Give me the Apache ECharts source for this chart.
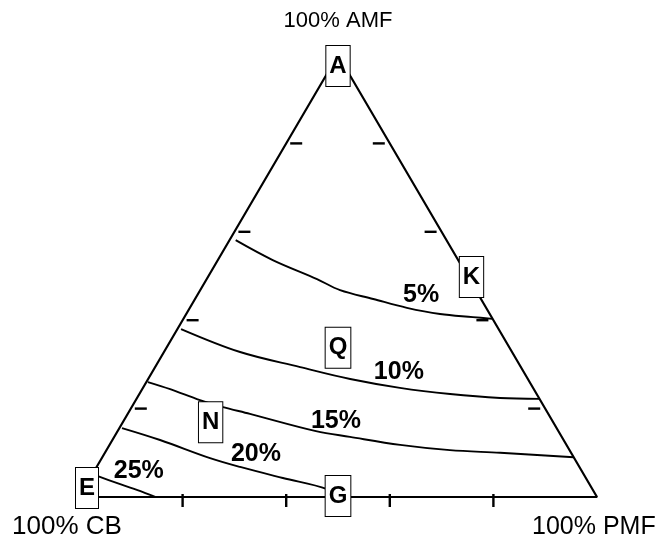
<!DOCTYPE html>
<html>
<head>
<meta charset="utf-8">
<script src="https://cdn.jsdelivr.net/npm/echarts@6/dist/echarts.min.js"></script>
<style>
  html, body { margin: 0; padding: 0; background: #fff; }
  #chart { width: 661px; height: 537px; }
</style>
</head>
<body>
<div id="chart"></div>
<script>
// Ternary composition diagram: AMF / CB / PMF (percent), iso-lines of a response.
// Every composition is [AMF, CB, PMF].

const vertexNames = ['100% AMF', '100% CB', '100% PMF'];
const vertices = [[100, 0, 0], [0, 100, 0], [0, 0, 100]];

const contourLabels = ['5%', '10%', '15%', '20%', '25%'];

const curve5 = [
  [58.1, 40.7, 1.2], [53.6, 35.8, 10.6], [49.3, 29.4, 21.3], [46.8, 26.2, 27.0],
  [44.8, 20.8, 34.4], [42.8, 15.3, 41.9], [41.4, 9.6, 49.0], [40.7, 3.6, 55.7],
  [40.3, 0.0, 59.7]
];
const curve10 = [
  [38.0, 61.3, 0.7], [32.8, 52.5, 14.7], [29.4, 42.6, 28.0], [26.7, 34.3, 39.0],
  [24.7, 25.7, 49.6], [23.3, 16.7, 60.0], [22.4, 7.5, 70.1], [22.2, 0.0, 77.8]
];
const curve15 = [
  [26.0, 73.7, 0.3], [24.4, 70.2, 5.4], [21.9, 65.7, 12.4], [20.4, 62.2, 17.4],
  [18.8, 57.6, 23.6], [14.9, 46.8, 38.3], [13.6, 40.9, 45.5], [11.8, 32.1, 56.1],
  [10.6, 23.1, 66.3], [10.0, 13.7, 76.3], [9.0, 0.0, 91.0]
];
const curve20 = [
  [15.6, 83.9, 0.5], [12.9, 77.9, 9.2], [8.8, 70.3, 20.9], [6.8, 65.5, 27.7],
  [4.3, 58.5, 37.2], [1.8, 51.2, 47.0], [0.0, 50.0, 50.0]
];
const curve25 = [
  [5.2, 94.7, 0.1], [4.8, 94.1, 1.1], [2.9, 90.6, 6.5], [1.1, 87.1, 11.8],
  [0.0, 85.3, 14.7]
];
const curves = [curve5, curve10, curve15, curve20, curve25];

// Where each iso-line is labelled
const contourLabelAt = [
  [45.7, 11.1, 43.2], [28.3, 24.1, 47.6], [17.2, 41.8, 41.0],
  [9.7, 61.0, 29.3], [5.9, 85.5, 8.6]
];

// Design points
const pointNames = ['A', 'E', 'G', 'K', 'Q', 'N'];
const pointAMF = [100, 0, 0, 50, 33.3, 16.7];
const pointCB  = [0, 100, 50, 0, 33.3, 66.7];
const pointPMF = [0, 0, 50, 50, 33.3, 16.7];

// Tick marks along each edge (percent)
const tickLevels = [20, 40, 60, 80];

// ---- layout / style ----
const FONT = '"Liberation Sans", Arial, Helvetica, sans-serif';
const INK = '#000';
const pointLabelOffsets = { A: [0, 11], E: [8, -9], G: [0, -1], K: [4, 1], Q: [0, -2], N: [2, -1] };

// ternary [AMF, CB, PMF] -> cartesian (x across the base, y up to the AMF apex)
function toXY(c) {
  const s = c[0] + c[1] + c[2];
  const amf = c[0] / s, pmf = c[2] / s;
  return [pmf + amf / 2, amf];
}

const chart = echarts.init(document.getElementById('chart'), null, { renderer: 'canvas' });

const edgeData = [vertices[0], vertices[1], vertices[2], vertices[0]].map(toXY);

// tick data: [x, y, side] where side 0 = left edge, 1 = right edge, 2 = base
const tickData = [];
tickLevels.forEach(function (t) {
  tickData.push(toXY([t, 100 - t, 0]).concat([0]));
  tickData.push(toXY([t, 0, 100 - t]).concat([1]));
  tickData.push(toXY([0, 100 - t, t]).concat([2]));
});

const series = [];

series.push({
  type: 'line',
  data: edgeData,
  symbol: 'none',
  lineStyle: { color: INK, width: 2.2 },
  z: 2,
  silent: true
});

curves.forEach(function (cv) {
  series.push({
    type: 'line',
    data: cv.map(toXY),
    symbol: 'none',
    smooth: 0.35,
    lineStyle: { color: INK, width: 1.9 },
    z: 3,
    silent: true
  });
});

series.push({
  type: 'custom',
  data: tickData,
  z: 4,
  silent: true,
  renderItem: function (params, api) {
    const p = api.coord([api.value(0), api.value(1)]);
    const side = api.value(2);
    let shape;
    if (side === 0) shape = { x1: p[0] + 4, y1: p[1], x2: p[0] + 16, y2: p[1] };
    else if (side === 1) shape = { x1: p[0] - 17, y1: p[1], x2: p[0] - 5, y2: p[1] };
    else shape = { x1: p[0], y1: p[1] - 3, x2: p[0], y2: p[1] + 10 };
    return { type: 'line', shape: shape, style: { stroke: INK, lineWidth: 2.4 } };
  }
});

series.push({
  type: 'scatter',
  data: contourLabelAt.map(function (c, i) {
    return { value: toXY(c), name: contourLabels[i] };
  }),
  symbolSize: 1,
  itemStyle: { color: 'rgba(0,0,0,0)', opacity: 1 },
  z: 5,
  silent: true,
  label: {
    show: true,
    position: 'inside',
    formatter: '{b}',
    color: INK,
    fontFamily: FONT,
    fontWeight: 'bold',
    fontSize: 25
  }
});

series.push({
  type: 'scatter',
  data: pointNames.map(function (n, i) {
    return {
      value: toXY([pointAMF[i], pointCB[i], pointPMF[i]]),
      name: n,
      label: { offset: pointLabelOffsets[n] }
    };
  }),
  symbolSize: 1,
  itemStyle: { color: 'rgba(0,0,0,0)', opacity: 1 },
  z: 10,
  silent: true,
  label: {
    show: true,
    position: 'inside',
    formatter: '{b}',
    color: INK,
    fontFamily: FONT,
    fontWeight: 'bold',
    fontSize: 24,
    lineHeight: 22,
    backgroundColor: '#fff',
    borderColor: '#000',
    borderWidth: 1,
    padding: [9, 3, 9, 3]
  }
});

chart.setOption({
  animation: false,
  backgroundColor: '#fff',
  grid: { left: 79, right: 64, top: 55, bottom: 40, containLabel: false },
  xAxis: { type: 'value', min: 0, max: 1, show: false },
  yAxis: { type: 'value', min: 0, max: 1, show: false },
  graphic: [
    { type: 'text', style: { text: vertexNames[0], x: 338, y: 21, align: 'center', verticalAlign: 'middle', font: '22px ' + FONT, fill: '#000' } },
    { type: 'text', style: { text: vertexNames[1], x: 12, y: 527, align: 'left', verticalAlign: 'middle', font: '26px ' + FONT, fill: '#000' } },
    { type: 'text', style: { text: vertexNames[2], x: 532, y: 527, align: 'left', verticalAlign: 'middle', font: '25px ' + FONT, fill: '#000' } }
  ],
  series: series
});
</script>
</body>
</html>
